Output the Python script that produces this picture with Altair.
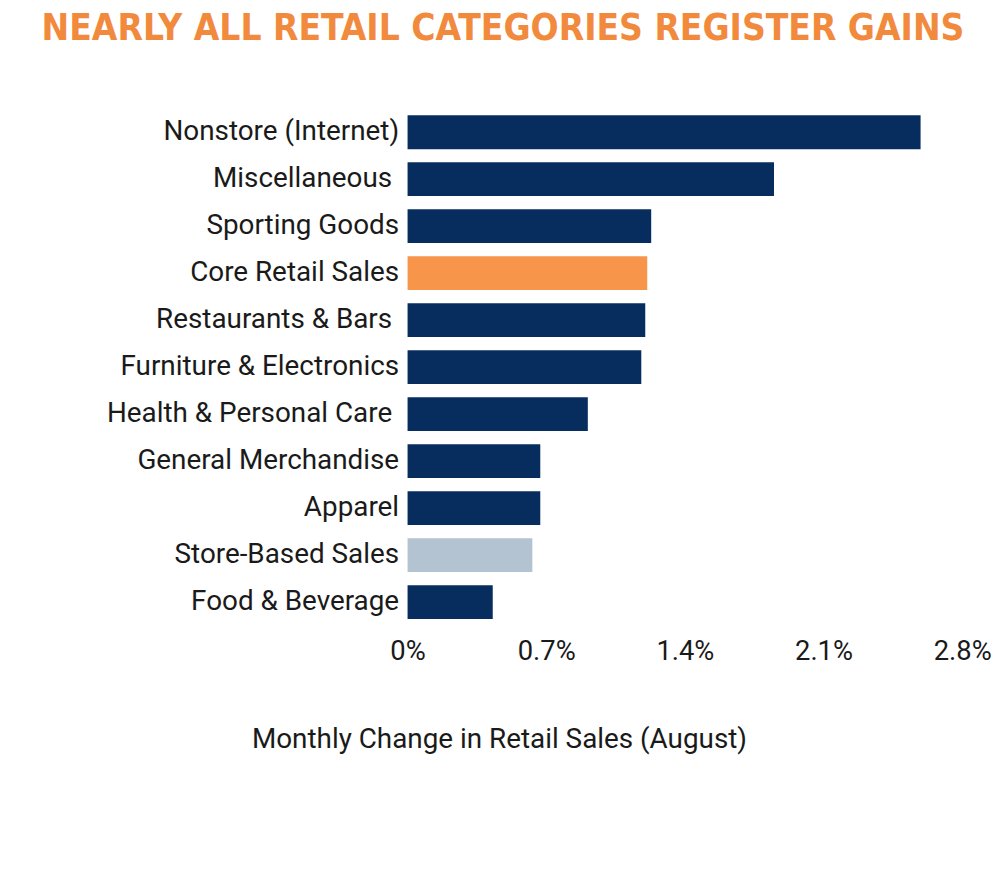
import altair as alt
import pandas as pd

categories = [
    "Nonstore (Internet)",
    "Miscellaneous",
    "Sporting Goods",
    "Core Retail Sales",
    "Restaurants & Bars",
    "Furniture & Electronics",
    "Health & Personal Care",
    "General Merchandise",
    "Apparel",
    "Store-Based Sales",
    "Food & Beverage",
]
values = [2.59, 1.85, 1.23, 1.21, 1.20, 1.18, 0.91, 0.67, 0.67, 0.63, 0.43]
groups = ["cat", "cat", "cat", "core", "cat", "cat", "cat", "cat", "cat", "store", "cat"]
tick_values = [0, 0.7, 1.4, 2.1, 2.8]
# labels that carry a trailing space in the original graphic
trailing_space = ["Miscellaneous", "Restaurants & Bars", "Health & Personal Care"]

df = pd.DataFrame({"category": categories, "value": values, "group": groups})

FONT = "Roboto"
trail_list = "[" + ",".join("'" + t + "'" for t in trailing_space) + "]"

chart = (
    alt.Chart(df)
    .mark_bar()
    .encode(
        x=alt.X(
            "value:Q",
            scale=alt.Scale(domain=[0, 2.8], nice=False),
            axis=alt.Axis(
                values=tick_values,
                labelExpr="datum.value + '%'",
                grid=False,
                domain=False,
                ticks=False,
                labelPadding=12,
                labelFontSize=27.5,
                labelFont=FONT,
                labelColor="#1a1a1a",
                labelBaseline="top",
                title="Monthly Change in Retail Sales (August)",
                titleFont=FONT,
                titleFontSize=28,
                titleFontWeight="normal",
                titleColor="#1a1a1a",
                titleX=92,
                titleY=123,
                titleAlign="center",
                titleBaseline="alphabetic",
                labelFlush=False,
            ),
        ),
        y=alt.Y(
            "category:N",
            sort=categories,
            scale=alt.Scale(paddingInner=0.28, paddingOuter=0.14),
            axis=alt.Axis(
                title=None,
                grid=False,
                domain=False,
                ticks=False,
                labelPadding={
                    "condition": {
                        "test": "indexof(" + trail_list + ", datum.value) >= 0",
                        "value": 16,
                    },
                    "value": 9,
                },
                labelFontSize=28,
                labelFont=FONT,
                labelColor="#1a1a1a",
                labelLimit=400,
            ),
        ),
        color=alt.Color(
            "group:N",
            scale=alt.Scale(
                domain=["cat", "core", "store"],
                range=["#062D5E", "#F7964B", "#B4C3D2"],
            ),
            legend=None,
        ),
    )
    .properties(
        width=558,
        height=520,
        autosize=alt.AutoSizeParams(type="none"),
        padding={"left": 402, "top": 99, "right": 30, "bottom": 150},
        title=alt.TitleParams(
            "NEARLY ALL RETAIL CATEGORIES REGISTER GAINS",
            font="DejaVu Sans Condensed, sans-serif",
            fontSize=37,
            fontWeight="bold",
            color="#F28A3E",
            anchor="middle",
            dx=-183,
            offset=61,
        ),
    )
    .configure_view(stroke=None)
)

chart.save("out.html", embed_options={"renderer": "svg", "actions": False})
